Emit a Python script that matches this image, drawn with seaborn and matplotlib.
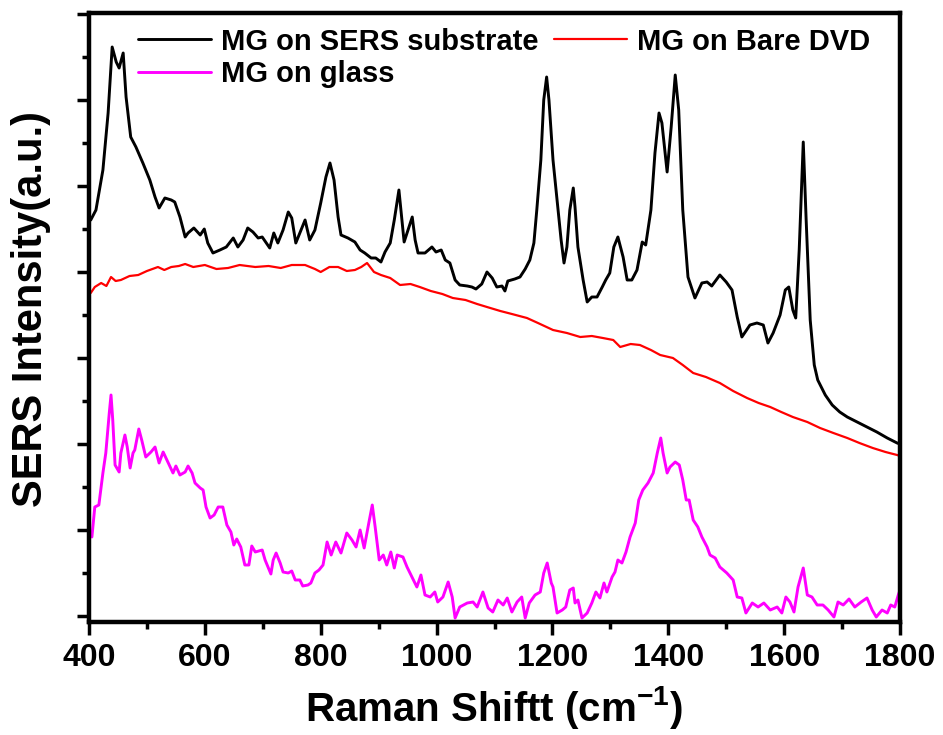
import matplotlib
matplotlib.use("Agg")
import matplotlib.pyplot as plt
import numpy as np
import pandas as pd
import seaborn as sns
from matplotlib.ticker import MultipleLocator

# ---------------- data ----------------
sers_x = [403, 412, 424, 433, 440, 447, 452, 459, 464, 472, 481, 493, 505, 514, 521, 531, 542, 548, 557, 566,
          571, 581, 592, 599, 605, 614, 626, 637, 649, 657, 666, 674, 683, 692, 699, 706, 712, 719, 726, 735,
          744, 750, 757, 766, 773, 781, 790, 800, 809, 816, 823, 830, 835, 847, 859, 868, 876, 887, 895, 904,
          911, 920, 927, 935, 944, 958, 963, 968, 980, 992, 999, 1008, 1015, 1023, 1032, 1040, 1053, 1061, 1068, 1078,
          1087, 1096, 1104, 1113, 1118, 1123, 1135, 1144, 1153, 1161, 1168, 1173, 1180, 1185, 1190, 1194, 1201, 1208, 1215, 1220,
          1225, 1230, 1236, 1239, 1244, 1253, 1260, 1268, 1277, 1286, 1292, 1299, 1306, 1313, 1322, 1329, 1337, 1346, 1355, 1361,
          1370, 1377, 1384, 1389, 1398, 1405, 1412, 1418, 1425, 1434, 1446, 1458, 1467, 1475, 1489, 1500, 1510, 1519, 1527, 1541,
          1553, 1564, 1572, 1581, 1593, 1602, 1608, 1615, 1620, 1626, 1633, 1638, 1645, 1652, 1658, 1671, 1683, 1696, 1709, 1726,
          1743, 1760, 1778, 1795, 1800]
sers_y = [3960, 4060, 4460, 5030, 5690, 5540, 5480, 5630, 5190, 4790, 4690, 4530, 4360, 4190, 4080, 4180, 4160, 4140, 3990, 3790,
          3830, 3880, 3810, 3870, 3730, 3630, 3660, 3690, 3780, 3690, 3760, 3880, 3840, 3780, 3790, 3730, 3680, 3830, 3730, 3860,
          4040, 3980, 3730, 3860, 3960, 3760, 3860, 4130, 4390, 4530, 4360, 3990, 3810, 3780, 3740, 3660, 3630, 3580, 3580, 3540,
          3640, 3730, 3960, 4260, 3740, 3990, 3760, 3630, 3630, 3690, 3640, 3660, 3560, 3530, 3360, 3310, 3300, 3290, 3270, 3320,
          3440, 3380, 3290, 3300, 3250, 3350, 3370, 3390, 3470, 3560, 3730, 4060, 4560, 5160, 5390, 5160, 4560, 4160, 3760, 3530,
          3690, 4060, 4280, 4090, 3690, 3360, 3140, 3190, 3190, 3290, 3360, 3430, 3690, 3790, 3590, 3360, 3360, 3460, 3740, 3710,
          4060, 4630, 5030, 4930, 4440, 4890, 5410, 5060, 4060, 3390, 3180, 3330, 3340, 3300, 3410, 3340, 3260, 2990, 2790, 2910,
          2930, 2910, 2730, 2830, 3010, 3260, 3290, 3060, 2980, 3660, 4740, 3960, 2960, 2510, 2360, 2210, 2110, 2040, 1990, 1940,
          1890, 1840, 1780, 1730, 1720]

dvd_x = [403, 410, 421, 430, 438, 446, 455, 470, 485, 500, 519, 530, 542, 555, 566, 580, 600, 620, 640, 660,
         687, 710, 731, 750, 773, 790, 800, 815, 830, 845, 859, 870, 880, 892, 904, 920, 937, 955, 971, 990,
         1010, 1028, 1050, 1070, 1087, 1110, 1130, 1156, 1175, 1201, 1225, 1248, 1268, 1287, 1305, 1317, 1335, 1351, 1370, 1386,
         1408, 1425, 1443, 1465, 1489, 1512, 1536, 1556, 1576, 1595, 1615, 1640, 1662, 1685, 1709, 1730, 1753, 1775, 1795, 1800]
dvd_y = [3230, 3290, 3330, 3300, 3390, 3350, 3360, 3400, 3410, 3450, 3490, 3460, 3490, 3500, 3520, 3490, 3510, 3470, 3480, 3510,
         3490, 3500, 3480, 3510, 3510, 3470, 3440, 3490, 3490, 3450, 3460, 3490, 3530, 3440, 3410, 3380, 3310, 3320, 3290, 3250,
         3220, 3180, 3160, 3120, 3090, 3050, 3020, 2980, 2930, 2860, 2830, 2790, 2800, 2780, 2760, 2690, 2720, 2710, 2660, 2610,
         2580, 2510, 2430, 2390, 2330, 2250, 2180, 2130, 2090, 2040, 1990, 1940, 1880, 1830, 1780, 1730, 1680, 1640, 1610, 1600]

glass_x = [405, 410, 417, 424, 429, 435, 438, 441, 445, 452, 455, 462, 466, 471, 476, 479, 486, 491, 498, 507,
           514, 521, 528, 536, 545, 550, 557, 566, 571, 578, 583, 592, 597, 602, 609, 616, 623, 631, 638, 645,
           650, 655, 662, 669, 676, 681, 687, 693, 699, 704, 709, 714, 718, 723, 730, 735, 744, 750, 756, 764,
           769, 778, 783, 790, 797, 804, 811, 818, 826, 835, 845, 854, 861, 868, 875, 883, 889, 894, 901, 908,
           914, 921, 927, 932, 942, 949, 966, 973, 980, 989, 997, 1002, 1011, 1020, 1027, 1032, 1040, 1053, 1063, 1070,
           1080, 1089, 1097, 1106, 1115, 1122, 1130, 1139, 1147, 1153, 1160, 1170, 1179, 1185, 1191, 1198, 1201, 1208, 1217, 1223,
           1230, 1236, 1239, 1244, 1251, 1260, 1268, 1275, 1282, 1289, 1294, 1303, 1308, 1313, 1320, 1327, 1334, 1343, 1349, 1356,
           1365, 1374, 1381, 1387, 1391, 1398, 1403, 1412, 1419, 1425, 1431, 1436, 1443, 1451, 1458, 1467, 1472, 1481, 1489, 1501,
           1512, 1519, 1527, 1534, 1545, 1555, 1565, 1576, 1588, 1596, 1603, 1610, 1617, 1624, 1633, 1640, 1648, 1657, 1667, 1676,
           1686, 1693, 1702, 1712, 1722, 1733, 1743, 1752, 1759, 1769, 1778, 1784, 1791, 1797, 1800]
glass_y = [790, 1090, 1110, 1430, 1630, 2030, 2210, 1960, 1510, 1440, 1630, 1810, 1690, 1480, 1630, 1660, 1870, 1760, 1590, 1640,
           1690, 1530, 1640, 1540, 1430, 1500, 1410, 1440, 1500, 1430, 1330, 1280, 1260, 1090, 980, 1010, 1090, 1090, 910, 840,
           710, 770, 690, 510, 510, 700, 640, 650, 660, 560, 490, 420, 560, 630, 530, 440, 430, 450, 360, 360,
           300, 310, 330, 430, 460, 510, 740, 610, 740, 630, 830, 760, 690, 860, 680, 930, 1110, 890, 560, 610,
           510, 640, 480, 610, 590, 490, 290, 410, 210, 190, 240, 140, 190, 340, 190, -20, 90, 130, 140, 90,
           240, 80, 40, 160, 110, 180, 40, 140, 190, -20, 130, 210, 240, 430, 530, 330, 290, 30, 60, 90,
           260, 280, 130, 160, -20, 30, 130, 240, 180, 330, 240, 390, 440, 560, 530, 640, 790, 930, 1160, 1260,
           1330, 1430, 1630, 1780, 1630, 1430, 1490, 1540, 1510, 1360, 1160, 1160, 960, 890, 790, 690, 610, 580, 490, 430,
           360, 190, 180, 30, 130, 90, 130, 60, 90, 30, 190, 140, 40, 290, 480, 210, 190, 110, 110, 60,
           -10, 140, 110, 170, 90, 140, 180, 60, -10, 60, 30, 110, 90, 210, 260]

series_names = ["MG on SERS substrate", "MG on Bare DVD", "MG on glass"]
series_colors = ["#000000", "#ff0000", "#ff00ff"]
x_ticks = [400, 600, 800, 1000, 1200, 1400, 1600, 1800]

# ---------------- styling ----------------
sns.set_theme(style="white")
plt.rcParams["font.family"] = ["Liberation Sans", "DejaVu Sans"]
plt.rcParams["font.weight"] = "bold"
plt.rcParams["mathtext.default"] = "regular"
for key in ["text.color", "axes.labelcolor", "xtick.color", "ytick.color"]:
    plt.rcParams[key] = "black"

fig = plt.figure(figsize=(9.43, 7.35), dpi=100)
ax = fig.add_axes([89 / 943, 1 - 622 / 735, 811 / 943, 609 / 735])

df = pd.concat([
    pd.DataFrame({"wn": sers_x, "I": sers_y, "series": series_names[0]}),
    pd.DataFrame({"wn": dvd_x, "I": dvd_y, "series": series_names[1]}),
    pd.DataFrame({"wn": glass_x, "I": glass_y, "series": series_names[2]}),
], ignore_index=True)

widths = [2.1, 1.6, 2.1]
for name, col, lw in zip(series_names, series_colors, widths):
    sns.lineplot(data=df[df["series"] == name], x="wn", y="I", color=col, linewidth=lw,
                 estimator=None, sort=False, label=name, ax=ax)

ax.set_xlim(400, 1800)
ax.set_ylim(-60, 6030)
ax.set_xticks(x_ticks)
ax.xaxis.set_minor_locator(MultipleLocator(100))
ax.yaxis.set_major_locator(MultipleLocator(860))
ax.yaxis.set_minor_locator(MultipleLocator(430))

for s in ax.spines.values():
    s.set_visible(True)
    s.set_linewidth(3.2)
    s.set_color("black")

ax.tick_params(axis="both", which="both", direction="out", bottom=True, left=True,
               top=False, right=False, color="black", width=2.5)
ax.tick_params(axis="both", which="major", length=9)
ax.tick_params(axis="both", which="minor", length=5)
ax.tick_params(axis="x", labelsize=23, pad=6, labelcolor="black")
ax.tick_params(axis="y", labelleft=False)
for lbl in ax.get_xticklabels():
    lbl.set_fontweight("bold")

ax.set_xlabel("Raman Shiftt (cm$^{-1}$)", fontsize=29, fontweight="bold", labelpad=8)
ax.set_ylabel("SERS Intensity(a.u.)", fontsize=30, fontweight="bold")
ax.yaxis.set_label_coords(-0.047, 0.514)

h, l = ax.get_legend_handles_labels()
order = [0, 2, 1]
ax.legend([h[i] for i in order], [l[i] for i in order], ncol=2, loc="upper left",
          bbox_to_anchor=(0.06, 0.976), frameon=False,
          prop={"size": 21, "weight": "bold"}, handlelength=2.5, handletextpad=0.35,
          columnspacing=0.55, labelspacing=0.15, borderpad=0, borderaxespad=0)

fig.savefig("out.png", dpi=100, facecolor="white")
